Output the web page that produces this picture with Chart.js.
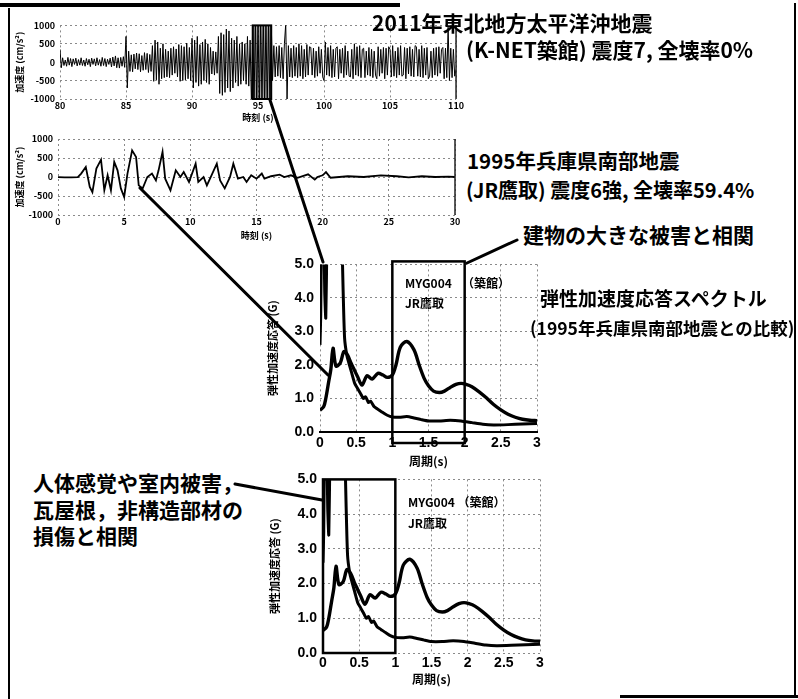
<!DOCTYPE html>
<html lang="ja">
<head>
<meta charset="utf-8">
<script src="https://cdn.jsdelivr.net/npm/chart.js@4.4.1/dist/chart.umd.min.js"></script>
<style>
body { margin: 0; background: #fff; }
#page { position: relative; width: 798px; height: 699px; overflow: hidden; font-family: "Noto Sans CJK JP", "Noto Sans", sans-serif; }
#page canvas { position: absolute; }
.t { position: absolute; white-space: nowrap; font-weight: 700; line-height: 1; color: #000; }
.big { font-size: 21px; }
.small { font-size: 12px; }
.rule { position: absolute; background: #000; }
svg { position: absolute; left: 0; top: 0; }
</style>
</head>
<body>
<div id="page">
  <div class="rule" style="left:0;top:3px;width:400px;height:4px"></div>
  <div class="rule" style="left:8px;top:8px;width:2px;height:691px"></div>
  <div class="rule" style="left:794px;top:3px;width:2px;height:694px"></div>
  <div class="rule" style="left:620px;top:695px;width:178px;height:3px"></div>

  <canvas id="knet" width="455" height="115" style="left:10px;top:15px"></canvas>
  <canvas id="jr" width="452" height="115" style="left:10px;top:128px"></canvas>
  <canvas id="spec1" width="290" height="222" style="left:255px;top:250px"></canvas>
  <canvas id="spec2" width="290" height="234" style="left:257px;top:465px"></canvas>

  <div class="t big" style="left:372px;top:12px">2011年東北地方太平洋沖地震</div>
  <div class="t big" style="left:466px;top:39px">(K-NET築館) 震度7, 全壊率0%</div>
  <div class="t" style="left:467px;top:150px;font-size:20.5px">1995年兵庫県南部地震</div>
  <div class="t" style="left:466px;top:180px;font-size:20px">(JR鷹取) 震度6強, 全壊率59.4%</div>
  <div class="t big" style="left:523px;top:224px">建物の大きな被害と相関</div>
  <div class="t" style="left:540px;top:288px;font-size:19px">弾性加速度応答スペクトル</div>
  <div class="t" style="left:530px;top:319px;font-size:17.5px">(1995年兵庫県南部地震との比較)</div>
  <div class="t big" style="left:33px;top:472px">人体感覚や室内被害，</div>
  <div class="t big" style="left:33px;top:499px">瓦屋根，非構造部材の</div>
  <div class="t big" style="left:33px;top:525px">損傷と相関</div>

  <div class="t small" style="left:405px;top:277px">MYG004</div>
  <div class="t small" style="left:462px;top:277px">（築館）</div>
  <div class="t small" style="left:405px;top:297px">JR鷹取</div>
  <div class="t small" style="left:408px;top:496px">MYG004 （築館）</div>
  <div class="t small" style="left:408px;top:517px">JR鷹取</div>

  <svg width="798" height="699">
    <g stroke="#000" stroke-width="3" stroke-linecap="round">
      <line x1="270" y1="100" x2="323" y2="262"/>
      <line x1="140" y1="188" x2="328" y2="375"/>
      <line x1="517" y1="240" x2="467" y2="263"/>
      <line x1="235" y1="484" x2="322" y2="500"/>
    </g>
  </svg>
</div>
<script>
// K-NET 築館 (MYG004) acceleration, 80 s .. 110 s every 0.1 s (cm/s2)
const knetStart = 80;
const knetStep = 0.1;
const knetAcc = [
  350, -150, 120, -90, 60, -110, 130, -80, 100, -120,
  90, -60, 110, -100, 70, -80, 120, -90, 60, -110,
  100, -70, 80, -120, 110, -60, 90, -100, 120, -80,
  70, -110, 130, -90, 100, -120, 80, -60, 110, -130,
  140, -100, 170, -150, 120, -160, 130, -110, 150, -140,
  700, -700, 300, -250, 200, -260, 220, -180, 250, -200,
  230, -260, 180, -220, 260, -200, 240, -280, 210, -250,
  450, -520, 600, -480, 550, -600, 380, -450, 500, -420,
  350, -400, 300, -420, 380, -350, 420, -300, 360, -400,
  480, -520, 450, -500, 420, -480, 520, -450, 400, -500,
  650, -700, 600, -550, 700, -650, 480, -600, 550, -500,
  620, -550, 500, -600, 400, -320, 300, -350, 280, -300,
  700, -850, 800, -900, 750, -820, 900, -700, 850, -800,
  650, -700, 600, -550, 700, -650, 500, -600, 550, -500,
  500, -600, 700, -650, 600, -1100, 1100, -1100, 1150, -1100,
  1100, -1150, 1100, -1100, 1150, -1100, 1100, -1150, 1100, -1100,
  1100, -500, 450, -400, 420, -380, 450, -420, 400, -450,
  500, 1050, -1000, 450, -400, 380, -420, 450, -380, 400,
  -420, 500, -380, 450, -450, 350, -400, 480, -350, 420,
  400, -350, 380, -420, 300, -380, 420, -300, 350, -400,
  -500, 550, -350, 400, -380, 450, -420, 350, -400, 380,
  420, -450, 350, -300, 380, -420, 450, -350, 300, -380,
  -400, 350, -450, 500, -350, 420, -380, 450, -420, 350,
  380, -420, 300, -350, 400, -380, 350, -420, 300, -350,
  -450, 420, -380, 350, -300, 400, -450, 380, -350, 420,
  350, -400, 450, -380, 300, -420, 400, -350, 450, -380,
  -350, 400, -450, 380, -320, 420, -380, 350, -400, 450,
  420, -380, 350, -400, 450, -420, 380, -350, 400, -450,
  -380, 300, -420, 380, -350, 400, -380, 420, -300, 350,
  400, -450, 380, -420, 950, -500, 380, -420, 350, -380,
  -200
];

// JR鷹取 acceleration (time s, cm/s2)
const jrTime = [0, 0.5, 1.0, 1.5, 1.75, 2.1, 2.4, 2.6, 2.9, 3.25, 3.5, 3.75, 4.0, 4.25, 4.5, 4.75, 5.0, 5.25, 5.6, 5.9,
  6.1, 6.4, 6.75, 7.1, 7.4, 7.6, 7.9, 8.1, 8.5, 8.9, 9.25, 9.5, 9.9, 10.4, 10.6, 11.0, 11.25, 11.6, 12.0, 12.25,
  12.6, 13.0, 13.25, 13.6, 14.0, 14.25, 14.6, 15.0, 15.4, 15.6, 16.1, 16.75, 17.1, 17.6, 18.1, 18.9, 19.4, 19.6, 20.0, 20.25,
  20.6, 21.9, 23.1, 24.4, 25.6, 26.5, 27.5, 28.5, 29.5, 30];
const jrAcc = [-5, -10, -10, -5, 90, 265, -260, -400, 220, 455, -350, 45, -350, 395, 175, -300, -525, 90, 700, 525,
  -220, -300, 0, 90, -90, 175, 660, -45, -350, 175, 0, 130, -130, 350, -130, 0, -220, 45, 350, -90,
  -300, 0, 350, -45, 0, -130, 45, -45, 90, -45, 20, 60, 0, 45, -20, 70, -70, 0, 45, 130,
  -20, 20, 0, 45, 20, -10, 20, 0, 10, 0];

// acceleration response spectra (period s, G)
const jrPeriod = [0, 0.05, 0.08, 0.12, 0.15, 0.18, 0.22, 0.28, 0.33, 0.38, 0.43, 0.47, 0.52, 0.58, 0.65, 0.72, 0.8, 0.87, 0.93, 1.0,
  1.05, 1.11, 1.2, 1.3, 1.37, 1.44, 1.5, 1.57, 1.65, 1.72, 1.8, 1.88, 1.95, 2.02, 2.1, 2.2, 2.3, 2.4, 2.5, 2.6,
  2.7, 2.8, 2.9, 3.0];
const jrSa = [0.65, 0.75, 1.0, 1.5, 1.87, 2.5, 1.97, 2.06, 2.4, 2.3, 2.05, 1.87, 1.65, 1.4, 1.68, 1.58, 1.75, 1.7, 1.63, 1.7,
  2.0, 2.53, 2.7, 2.45, 2.0, 1.6, 1.38, 1.22, 1.18, 1.22, 1.33, 1.42, 1.45, 1.42, 1.35, 1.2, 1.02, 0.82, 0.66, 0.53,
  0.44, 0.38, 0.35, 0.34];
const mygPeriod = [0, 0.01, 0.02, 0.035, 0.05, 0.065, 0.08, 0.095, 0.11, 0.13, 0.2, 0.27, 0.3, 0.32, 0.34, 0.37, 0.4, 0.44, 0.48, 0.52,
  0.56, 0.6, 0.63, 0.67, 0.7, 0.75, 0.8, 0.87, 0.93, 1.0, 1.1, 1.2, 1.3, 1.4, 1.5, 1.65, 1.8, 1.95, 2.1, 2.25,
  2.4, 2.6, 2.8, 3.0];
const mygSa = [2.6, 3.5, 5.8, 7.2, 6.5, 4.2, 3.4, 5.6, 7.5, 8.5, 9.5, 8.0, 6.0, 4.2, 2.8, 2.3, 2.05, 1.75, 1.45, 1.3,
  1.15, 1.0, 1.05, 0.88, 0.92, 0.75, 0.68, 0.58, 0.5, 0.45, 0.44, 0.46, 0.42, 0.37, 0.33, 0.33, 0.35, 0.33, 0.28, 0.23,
  0.21, 0.22, 0.24, 0.25];

const waveTicksY = [-1000, -500, 0, 500, 1000];

Chart.defaults.font.family = '"Noto Sans CJK JP", "Liberation Sans", sans-serif';
Chart.defaults.color = '#000';
Chart.defaults.animation = false;

// box around a period / time range, plus optional solid right edge
const boxPlugin = {
  id: 'markBox',
  afterDatasetsDraw(chart, args, opts) {
    const ctx = chart.ctx;
    const area = chart.chartArea;
    const x = chart.scales.x;
    ctx.save();
    if (opts.rightEdge) {
      ctx.strokeStyle = '#222';
      ctx.lineWidth = 1.5;
      ctx.beginPath();
      ctx.moveTo(area.right, area.top);
      ctx.lineTo(area.right, area.bottom);
      ctx.stroke();
    }
    if (opts.from !== undefined) {
      const l = x.getPixelForValue(opts.from);
      const r = x.getPixelForValue(opts.to);
      const top = area.top - (opts.above || 0);
      const h = area.bottom - area.top + (opts.above || 0) + (opts.below || 0);
      if (opts.fill) {
        ctx.fillStyle = opts.fill;
        ctx.fillRect(l, top, r - l, h);
      }
      ctx.strokeStyle = '#000';
      ctx.lineWidth = opts.width || 2;
      ctx.strokeRect(l, top, r - l, h);
    }
    ctx.restore();
  }
};

function waveChart(id, points, xmin, xmax, yWidth, xHeight, pad, titlePad, lineW, box) {
  return new Chart(document.getElementById(id), {
    type: 'line',
    data: {
      datasets: [{
        data: points,
        borderColor: '#000',
        borderWidth: lineW,
        pointRadius: 0,
        tension: 0
      }]
    },
    plugins: [boxPlugin],
    options: {
      responsive: false,
      layout: { padding: pad },
      plugins: {
        legend: { display: false },
        tooltip: { enabled: false },
        markBox: box
      },
      scales: {
        x: {
          type: 'linear',
          min: xmin,
          max: xmax,
          ticks: { stepSize: 5, font: { size: 9, weight: 'bold' }, padding: 1, maxRotation: 0, callback: v => String(v) },
          grid: { color: '#8a8a8a', drawTicks: false },
          border: { display: false, dash: [2, 3] },
          title: { display: true, text: '時刻 (s)', font: { size: 9, weight: 'bold' }, padding: { top: 0, bottom: titlePad } },
          afterFit: function (scale) { scale.height = xHeight; }
        },
        y: {
          min: -1000,
          max: 1000,
          afterBuildTicks: function (scale) { scale.ticks = waveTicksY.map(v => ({ value: v })); },
          ticks: { font: { size: 9, weight: 'bold' }, padding: 5, callback: v => String(v) },
          grid: { color: '#8a8a8a', drawTicks: false },
          border: { display: false, dash: [2, 3] },
          title: { display: true, text: '加速度 (cm/s²)', font: { size: 9, weight: 'bold' }, padding: { top: 4, bottom: 0 } },
          afterFit: function (scale) { scale.width = yWidth; }
        }
      }
    }
  });
}

function specChart(id, yWidth, xHeight, pad, tickPad, titlePad, box, xBorder) {
  return new Chart(document.getElementById(id), {
    type: 'line',
    data: {
      datasets: [
        {
          label: 'JR鷹取',
          data: jrPeriod.map((p, i) => ({ x: p, y: jrSa[i] })),
          borderColor: '#000',
          borderWidth: 3.4,
          pointRadius: 0,
          tension: 0.3
        },
        {
          label: 'MYG004 (築館)',
          data: mygPeriod.map((p, i) => ({ x: p, y: mygSa[i] })),
          borderColor: '#000',
          borderWidth: 3,
          pointRadius: 0,
          tension: 0.2
        }
      ]
    },
    plugins: [boxPlugin],
    options: {
      responsive: false,
      layout: { padding: pad },
      plugins: {
        legend: { display: false },
        tooltip: { enabled: false },
        markBox: box
      },
      scales: {
        x: {
          type: 'linear',
          min: 0,
          max: 3,
          ticks: {
            stepSize: 0.5,
            font: { size: 14, weight: 'bold', family: '"Liberation Sans", sans-serif' },
            padding: tickPad,
            maxRotation: 0,
            callback: v => (v % 1 === 0 ? String(v) : v.toFixed(1))
          },
          grid: { color: '#8a8a8a', drawTicks: false },
          border: xBorder,
          title: { display: true, text: '周期(s)', font: { size: 12, weight: 'bold' }, padding: { top: 0, bottom: titlePad } },
          afterFit: function (scale) { scale.height = xHeight; }
        },
        y: {
          min: 0,
          max: 5,
          ticks: {
            stepSize: 1,
            font: { size: 14, weight: 'bold', family: '"Liberation Sans", sans-serif' },
            padding: 6,
            callback: v => v.toFixed(1)
          },
          grid: { color: '#8a8a8a', drawTicks: false },
          border: { display: false, dash: [2, 3] },
          title: { display: true, text: '弾性加速度応答 (G)', font: { size: 11, weight: 'bold' }, padding: { top: 11, bottom: 0 } },
          afterFit: function (scale) { scale.width = yWidth; }
        }
      }
    }
  });
}

document.addEventListener('DOMContentLoaded', function () {
  waveChart('knet', knetAcc.map((v, i) => ({ x: knetStart + i * knetStep, y: v })), 80, 110, 50, 31,
    { top: 9, right: 7 }, 7, 1, { rightEdge: true, from: 94.6, to: 96.0, fill: 'rgba(0,0,0,0.35)', width: 2 });

  waveChart('jr', jrTime.map((t, i) => ({ x: t, y: jrAcc[i] })), 0, 30, 48, 28,
    { top: 11, right: 7 }, 2, 1.8, { rightEdge: true });

  specChart('spec1', 65, 40, { top: 12, right: 8 }, 3, 3,
    { from: 1, to: 2, above: 3, below: 11, width: 2.5 },
    { display: true, color: '#000', width: 2, dash: [2, 3] });

  specChart('spec2', 66, 46, { top: 12, right: 7 }, 2, 12,
    { from: 0, to: 1, above: 0, below: 0, width: 2.5 },
    { display: false, dash: [2, 3] });
});
</script>
</body>
</html>
